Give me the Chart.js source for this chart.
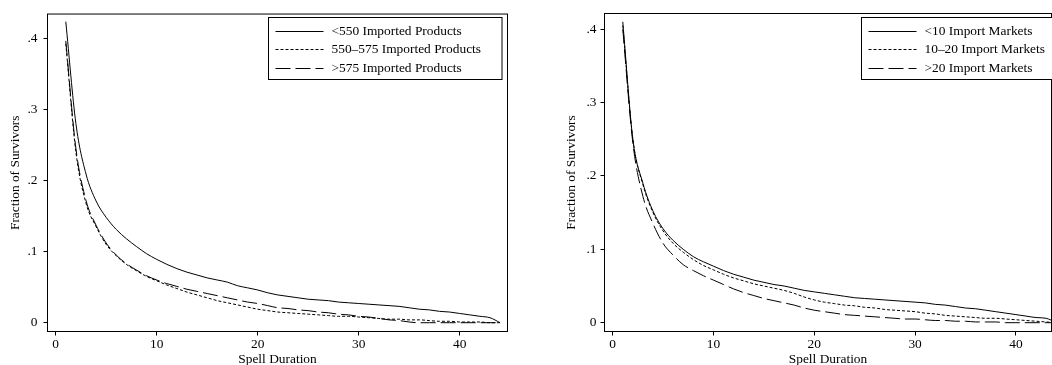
<!DOCTYPE html>
<html>
<head>
<meta charset="utf-8">
<script src="https://cdn.jsdelivr.net/npm/chart.js@4.4.1/dist/chart.umd.min.js"></script>
<style>
  html, body { margin: 0; padding: 0; background: #fff; overflow: hidden; }
  #wrap { position: relative; width: 1052px; height: 365px; }
  canvas { position: absolute; top: 0; }
  #left { left: 0; }
  #right { left: 530px; }
</style>
</head>
<body>
<div id="wrap">
  <canvas id="left" width="520" height="368"></canvas>
  <canvas id="right" width="522" height="368"></canvas>
</div>
<script>
'use strict'

// spell duration (years)
const durations = [1, 2, 3, 4, 5, 6, 7, 8, 9, 10, 11, 12, 13, 14, 15, 16, 17, 18, 19, 20, 21, 22,
    23, 24, 25, 26, 27, 28, 29, 30, 31, 32, 33, 34, 35, 36, 37, 38, 39, 40, 41, 42, 43, 44]

const xTicks = [0, 10, 20, 30, 40]
const yTicks = [0, 0.1, 0.2, 0.3, 0.4]

// left panel: by number of imported products
const productLabels = ['<550 Imported Products', '550\u2013575 Imported Products', '>575 Imported Products']
const productsLow = [0.423, 0.280, 0.209, 0.171, 0.148, 0.131, 0.118, 0.107, 0.097, 0.089, 0.082, 0.076,
    0.071, 0.067, 0.063, 0.060, 0.057, 0.052, 0.049, 0.046, 0.042, 0.039, 0.037, 0.035, 0.033, 0.032,
    0.031, 0.029, 0.028, 0.027, 0.026, 0.025, 0.024, 0.023, 0.021, 0.019, 0.018, 0.016, 0.015, 0.013,
    0.011, 0.009, 0.007, 0.000]
const productsMid = [0.392, 0.240, 0.168, 0.135, 0.110, 0.094, 0.082, 0.073, 0.065, 0.059, 0.053, 0.048,
    0.043, 0.039, 0.035, 0.031, 0.028, 0.025, 0.022, 0.019, 0.017, 0.015, 0.014, 0.013, 0.012, 0.011,
    0.010, 0.009, 0.009, 0.008, 0.007, 0.006, 0.005, 0.005, 0.004, 0.004, 0.003, 0.002, 0.002, 0.001,
    0.001, 0.001, 0.000, 0.000]
const productsHigh = [0.396, 0.245, 0.172, 0.137, 0.112, 0.095, 0.083, 0.074, 0.066, 0.060, 0.055, 0.051,
    0.047, 0.044, 0.041, 0.038, 0.035, 0.032, 0.029, 0.027, 0.024, 0.021, 0.020, 0.018, 0.017, 0.015,
    0.014, 0.012, 0.011, 0.009, 0.008, 0.006, 0.004, 0.003, 0.001, 0.000, 0.000, 0.000, 0.000, 0.000,
    0.000, 0.000, 0.000, 0.000]

// right panel: by number of import markets
const marketLabels = ['<10 Import Markets', '10\u201320 Import Markets', '>20 Import Markets']
const marketsLow = [0.410, 0.250, 0.190, 0.152, 0.128, 0.112, 0.100, 0.090, 0.083, 0.077, 0.071, 0.066,
    0.062, 0.058, 0.055, 0.052, 0.050, 0.047, 0.044, 0.042, 0.040, 0.038, 0.036, 0.034, 0.033, 0.032,
    0.031, 0.030, 0.029, 0.028, 0.027, 0.025, 0.024, 0.022, 0.020, 0.019, 0.017, 0.015, 0.013, 0.011,
    0.009, 0.007, 0.006, 0.000]
const marketsMid = [0.405, 0.250, 0.188, 0.150, 0.125, 0.108, 0.096, 0.086, 0.078, 0.072, 0.066, 0.061,
    0.057, 0.053, 0.050, 0.047, 0.044, 0.040, 0.035, 0.031, 0.028, 0.026, 0.024, 0.023, 0.021, 0.020,
    0.018, 0.017, 0.016, 0.015, 0.013, 0.012, 0.010, 0.009, 0.008, 0.007, 0.006, 0.006, 0.005, 0.004,
    0.003, 0.002, 0.001, 0.000]
const marketsHigh = [0.400, 0.245, 0.172, 0.135, 0.108, 0.092, 0.079, 0.071, 0.064, 0.058, 0.052, 0.046,
    0.041, 0.037, 0.033, 0.030, 0.027, 0.024, 0.020, 0.017, 0.015, 0.013, 0.011, 0.010, 0.009, 0.008,
    0.007, 0.006, 0.005, 0.005, 0.004, 0.003, 0.003, 0.002, 0.002, 0.001, 0.001, 0.001, 0.000, 0.000,
    0.000, 0.000, 0.000, 0.000]

const lineStyles = [[], [3, 2], [15, 5]]
const FONT = "'Liberation Serif', 'Times New Roman', serif"
const FONT_SIZE = 13.4

Chart.defaults.font.family = FONT
Chart.defaults.font.size = FONT_SIZE
Chart.defaults.color = '#000'

// frame round the plot region
const framePlugin = {
    id: 'frame',
    afterDatasetsDraw(chart) {
        const { left, right, top, bottom } = chart.chartArea
        const ctx = chart.ctx
        ctx.save()
        ctx.lineWidth = 1
        ctx.strokeStyle = '#000'
        ctx.strokeRect(left, top, right - left, bottom - top)
        ctx.restore()
    }
}

// boxed legend in the upper right, stata style
const boxLegendPlugin = {
    id: 'boxLegend',
    afterDraw(chart, args, opts) {
        const ctx = chart.ctx
        const sets = chart.data.datasets
        ctx.save()
        ctx.font = FONT_SIZE + 'px ' + FONT
        let textW = 0
        sets.forEach(ds => { textW = Math.max(textW, ctx.measureText(ds.label).width) })
        const x0 = opts.left
        const y0 = opts.top
        const w = 63 + textW + 21
        const h = 62
        ctx.fillStyle = '#fff'
        ctx.fillRect(x0, y0, w, h)
        ctx.strokeStyle = '#000'
        ctx.lineWidth = 1
        ctx.strokeRect(x0, y0, w, h)
        sets.forEach((ds, i) => {
            const y = y0 + 13.5 + i * 18.3
            ctx.setLineDash(ds.borderDash || [])
            ctx.beginPath()
            ctx.moveTo(x0 + 7, Math.round(y) + 0.5)
            ctx.lineTo(x0 + 55, Math.round(y) + 0.5)
            ctx.stroke()
            ctx.setLineDash([])
            ctx.fillStyle = '#000'
            ctx.textBaseline = 'middle'
            ctx.textAlign = 'left'
            ctx.fillText(ds.label, x0 + 63, y + 0.5)
        })
        ctx.restore()
    }
}

function makeDatasets(labels, seriesList) {
    return seriesList.map((series, i) => ({
        label: labels[i],
        data: durations.map((d, k) => ({ x: d, y: series[k] })),
        borderColor: '#000',
        borderWidth: 1,
        borderDash: lineStyles[i],
        pointRadius: 0,
        fill: false,
        cubicInterpolationMode: 'monotone'
    }))
}

function makeChart(el, datasets, cfg) {
    return new Chart(el, {
        type: 'line',
        data: { datasets },
        plugins: [framePlugin, boxLegendPlugin],
        options: {
            responsive: false,
            animation: false,
            layout: {
                padding: { left: 0, right: cfg.padRight, top: 13.5, bottom: 0 }
            },
            plugins: {
                legend: { display: false },
                tooltip: { enabled: false },
                boxLegend: cfg.legend
            },
            scales: {
                x: {
                    type: 'linear',
                    min: cfg.xMin,
                    max: cfg.xMax,
                    afterBuildTicks(scale) {
                        scale.ticks = xTicks.map(v => ({ value: v }))
                    },
                    afterFit(scale) {
                        scale.height = 368 - 331.5
                    },
                    border: { display: false },
                    grid: {
                        drawOnChartArea: false,
                        drawTicks: true,
                        tickLength: 4,
                        color: '#000'
                    },
                    ticks: {
                        padding: 1,
                        maxRotation: 0
                    },
                    title: {
                        display: true,
                        text: 'Spell Duration',
                        padding: { top: 0, bottom: 0 }
                    }
                },
                y: {
                    type: 'linear',
                    min: cfg.yMin,
                    max: cfg.yMax,
                    afterBuildTicks(scale) {
                        scale.ticks = yTicks.map(v => ({ value: v }))
                    },
                    afterFit(scale) {
                        scale.width = cfg.yWidth
                    },
                    border: { display: false },
                    grid: {
                        drawOnChartArea: false,
                        drawTicks: true,
                        tickLength: 4,
                        color: '#000'
                    },
                    ticks: {
                        padding: cfg.yTickPad,
                        callback: v => (v === 0 ? '0' : String(Math.round(v * 10) / 10).replace(/^0\./, '.'))
                    },
                    title: {
                        display: true,
                        text: 'Fraction of Survivors',
                        padding: { top: cfg.yTitlePad, bottom: 0 }
                    }
                }
            }
        }
    })
}

makeChart(document.getElementById('left'),
    makeDatasets(productLabels, [productsLow, productsMid, productsHigh]), {
        padRight: 12.5,
        xMin: -0.81,
        xMax: 44.73,
        yMin: -0.01234,
        yMax: 0.4337,
        yWidth: 47.5,
        yTickPad: 6,
        yTitlePad: 7,
        legend: { left: 268.5, top: 17.5 }
    })

makeChart(document.getElementById('right'),
    makeDatasets(marketLabels, [marketsLow, marketsMid, marketsHigh]), {
        padRight: 0.5,
        xMin: -0.813,
        xMax: 43.53,
        yMin: -0.012,
        yMax: 0.4213,
        yWidth: 74.5,
        yTickPad: 4,
        yTitlePad: 33.7,
        legend: { left: 331.5, top: 17.5 }
    })
</script>
</body>
</html>
